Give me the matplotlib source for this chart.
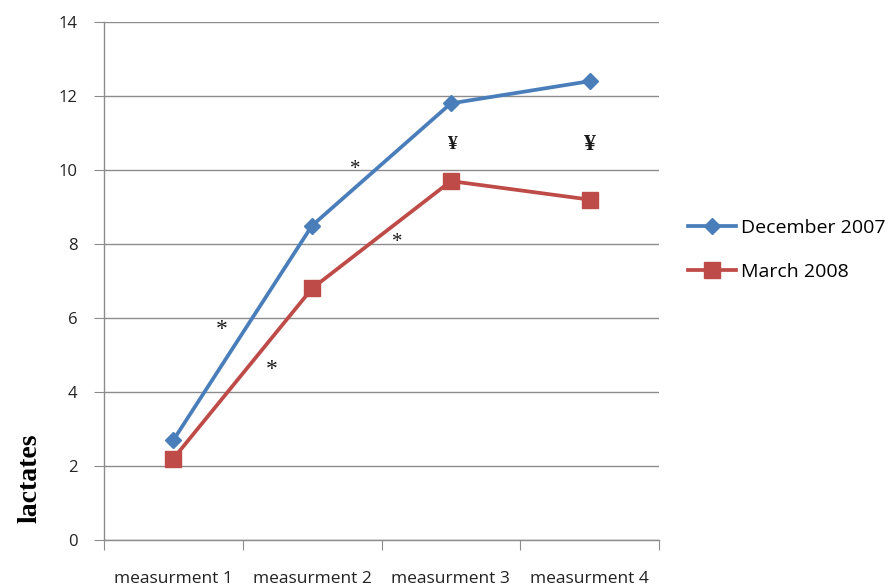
import matplotlib
matplotlib.use("Agg")
import matplotlib.pyplot as plt

categories = ["measurment 1", "measurment 2", "measurment 3", "measurment 4"]
december_2007 = [2.7, 8.5, 11.8, 12.4]
march_2008 = [2.2, 6.8, 9.7, 9.2]
# significance marks: (x position in category units, y value, symbol)
mark_x = [1.35, 1.71, 2.31, 2.61, 3.01, 4.0]
mark_y = [5.7, 4.6, 10.0, 8.05, 10.7, 10.7]
mark_s = ["*", "*", "*", "*", "¥", "¥"]
mark_size = [17, 17, 15, 15, 14, 17]

fig = plt.figure(figsize=(8.91, 5.88), dpi=100)
ax = fig.add_axes([104/891, 1-540/588, (659-104)/891, (540-22)/588])

grid_c = "#8c8c8c"
x = [1, 2, 3, 4]
ax.plot(x, december_2007, color="#4A7EBB", lw=2.7, marker="D", ms=8,
        label="December 2007", zorder=3)
ax.plot(x, march_2008, color="#BE4B48", lw=2.7, marker="s", ms=11,
        label="March 2008", zorder=3)

for mx, my, s, fs in zip(mark_x, mark_y, mark_s, mark_size):
    ax.text(mx, my, s, ha="center", va="center", fontsize=fs,
            family="Liberation Serif", fontweight="bold" if s == "¥" else "normal",
            color="#1a1a1a")

ax.set_xlim(0.5, 4.5)
ax.set_ylim(0, 14)
ax.set_yticks(range(0, 15, 2))
ax.yaxis.grid(True, color=grid_c, lw=1)
ax.set_axisbelow(True)
ax.set_xticks([0.5, 1.5, 2.5, 3.5, 4.5])
ax.set_xticklabels([])
ax.set_xticks(x, minor=True)
ax.set_xticklabels(categories, minor=True, fontsize=12.5, family="Open Sans",
                   color="#222222")
ax.tick_params(axis="x", which="minor", length=0, pad=22)
ax.tick_params(axis="x", which="major", length=7, direction="out", color=grid_c)
ax.tick_params(axis="y", length=7, direction="out", color=grid_c, labelsize=12,
               labelcolor="#222222", pad=12)
for lbl in ax.get_yticklabels():
    lbl.set_family("Open Sans")
for sp in ["top", "right"]:
    ax.spines[sp].set_visible(False)
for sp in ["left", "bottom"]:
    ax.spines[sp].set_color(grid_c)
    ax.spines[sp].set_linewidth(1)

fig.text(30/891, 1-478/588, "lactates", rotation=90, ha="center", va="center",
         family="Liberation Serif", fontweight="bold", fontsize=20, color="black")

leg = ax.legend(loc="center left", bbox_to_anchor=(1.02, 0.56), frameon=False,
                prop={"family": "Open Sans", "size": 14},
                handlelength=2.5, labelspacing=1.35, handletextpad=0.25)

fig.savefig("out.png", dpi=100, facecolor="white")
